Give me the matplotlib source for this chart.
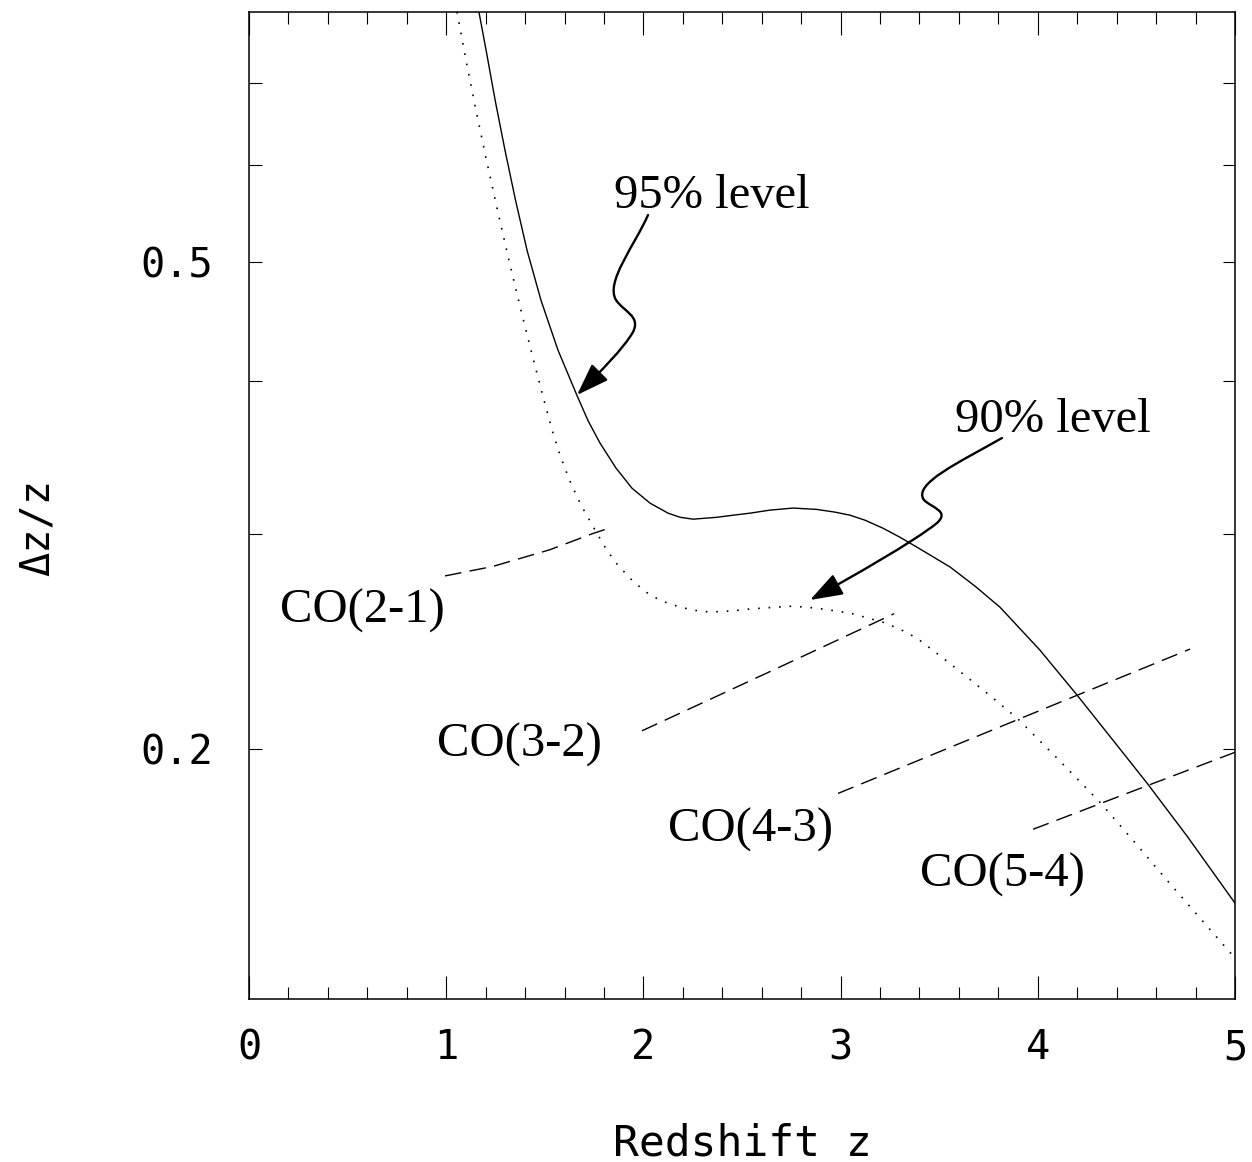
import matplotlib
matplotlib.use("Agg")
import matplotlib.pyplot as plt
from matplotlib.path import Path
from matplotlib.patches import FancyArrowPatch
from matplotlib.ticker import FixedLocator, NullLocator, FixedFormatter

# ---- data ----
z95 = [1.166, 1.202, 1.248, 1.298, 1.351, 1.410, 1.481, 1.567, 1.663, 1.719,
       1.780, 1.861, 1.942, 2.034, 2.125, 2.186, 2.252, 2.373, 2.454, 2.541,
       2.642, 2.759, 2.880, 2.972, 3.048, 3.124, 3.215, 3.301, 3.387, 3.555,
       3.682, 3.808, 4.011, 4.199, 4.381, 4.554, 4.757, 5.0]
dz95 = [0.800, 0.745, 0.678, 0.617, 0.562, 0.511, 0.465, 0.4235, 0.389, 0.371,
        0.3556, 0.3393, 0.3267, 0.3176, 0.3117, 0.3093, 0.3082, 0.3093, 0.3105, 0.3117,
        0.3135, 0.3147, 0.3139, 0.3123, 0.3105, 0.3076, 0.3030, 0.2979, 0.2924, 0.2817,
        0.2717, 0.2612, 0.2409, 0.2214, 0.2034, 0.1876, 0.1698, 0.1497]

z90 = [1.055, 1.100, 1.151, 1.204, 1.260, 1.318, 1.379, 1.443, 1.496, 1.537,
       1.577, 1.625, 1.684, 1.755, 1.815, 1.871, 1.942, 2.013, 2.084, 2.170,
       2.252, 2.338, 2.439, 2.541, 2.642, 2.759, 2.880, 3.048, 3.215, 3.301,
       3.387, 3.514, 3.641, 3.768, 3.895, 4.102, 4.315, 4.488, 4.655, 4.828, 5.0]
dz90 = [0.800, 0.7311, 0.6651, 0.6056, 0.5511, 0.5017, 0.4566, 0.4156, 0.3855, 0.3644,
        0.3477, 0.3317, 0.3164, 0.3019, 0.2907, 0.2826, 0.2748, 0.2687, 0.2646, 0.2617,
        0.2597, 0.2588, 0.2593, 0.2603, 0.2610, 0.2617, 0.2607, 0.2583, 0.2539, 0.2506,
        0.2464, 0.2377, 0.2290, 0.2205, 0.2120, 0.1963, 0.1810, 0.1681, 0.1563, 0.1452, 0.1350]

co_labels = ["CO(2-1)", "CO(3-2)", "CO(4-3)", "CO(5-4)"]
co_z = [[0.994, 1.237, 1.526, 1.744, 1.826],
        [1.993, 2.632, 3.271],
        [2.987, 3.879, 4.772],
        [3.976, 4.490, 5.0]]
co_dz = [[0.277, 0.282, 0.291, 0.300, 0.303],
         [0.207, 0.231, 0.258],
         [0.184, 0.2108, 0.2414],
         [0.172, 0.185, 0.1988]]

x_ticks = [0, 1, 2, 3, 4, 5]
y_ticks = [0.2, 0.3, 0.4, 0.5, 0.6, 0.7]
y_ticklabels = ["0.2", "", "", "0.5", "", ""]

W, H = 1252, 1162
fig = plt.figure(figsize=(W / 100, H / 100), dpi=100)
ax = fig.add_axes([249 / W, 1 - 999 / H, (1235 - 249) / W, (999 - 12) / H])

ax.plot(z95, dz95, color="black", lw=1.0, solid_joinstyle="round")
ax.plot(z90, dz90, color="black", lw=1.2, linestyle=(0, (1, 5.3)))
for zz, dd in zip(co_z, co_dz):
    ax.plot(zz, dd, color="black", lw=1.0, linestyle=(0, (12, 6)))

ax.set_yscale("log")
ax.set_xlim(0, 5)
ax.set_ylim(0.125, 0.8)

ax.xaxis.set_major_locator(FixedLocator(x_ticks))
ax.xaxis.set_minor_locator(FixedLocator([i * 0.2 for i in range(26)]))
ax.yaxis.set_major_locator(FixedLocator(y_ticks))
ax.yaxis.set_major_formatter(FixedFormatter(y_ticklabels))
ax.yaxis.set_minor_locator(NullLocator())

tickfont = {"family": "DejaVu Sans Mono", "size": 29}
ax.tick_params(axis="x", which="major", direction="in", length=16.5, width=0.8,
               top=True, bottom=True, pad=21)
ax.tick_params(axis="x", which="minor", direction="in", length=8.5, width=0.8,
               top=True, bottom=True)
ax.tick_params(axis="y", which="major", direction="in", length=9, width=0.8,
               left=True, right=True, pad=26)
for lab in ax.get_xticklabels() + ax.get_yticklabels():
    lab.set_fontfamily("DejaVu Sans Mono")
    lab.set_fontsize(29)
ax.set_xticklabels([str(t) for t in x_ticks], fontdict=tickfont)

for sp in ax.spines.values():
    sp.set_linewidth(1.1)

ax.set_xlabel("Redshift z", fontfamily="DejaVu Sans Mono", fontsize=31)
ax.xaxis.set_label_coords(0.5, (999 - 1143) / 987)
ax.xaxis.label.set_va("center")
ax.set_ylabel("\u0394z/z", fontfamily="DejaVu Sans Mono", fontsize=29)
ax.yaxis.set_label_coords((38 - 249) / 986, (999 - 528) / 987)
ax.yaxis.label.set_va("center")

# ---- annotations (positions in reference pixel coords) ----
def fp(px, py):
    return (px / W, 1 - py / H)

serif = dict(family="Liberation Serif", size=35)
fig.text(*fp(614, 208), "95% level", ha="left", va="baseline", **serif)
fig.text(*fp(955, 432), "90% level", ha="left", va="baseline", **serif)
label_pos = [(280, 623), (437, 757), (668, 842), (920, 887)]
for (px, py), lab in zip(label_pos, co_labels):
    fig.text(*fp(px, py), lab, ha="left", va="baseline", **serif)

def wiggle_arrow(pts):
    verts = [fp(*p) for p in pts]
    codes = [Path.MOVETO] + [Path.CURVE4] * (len(verts) - 1)
    arr = FancyArrowPatch(path=Path(verts, codes), transform=fig.transFigure,
                          arrowstyle="-|>,head_length=20,head_width=7",
                          mutation_scale=1, lw=1.7, color="black",
                          shrinkA=0, shrinkB=0)
    fig.add_artist(arr)

wiggle_arrow([(648, 215), (635, 245), (605, 282), (616, 300),
              (624, 312), (641, 316), (633, 332),
              (624, 348), (600, 372), (577, 395)])
wiggle_arrow([(1002, 438), (960, 462), (912, 484), (924, 500),
              (932, 508), (950, 511), (937, 523),
              (915, 541), (850, 578), (810, 600)])

fig.savefig("out.png", dpi=100)
